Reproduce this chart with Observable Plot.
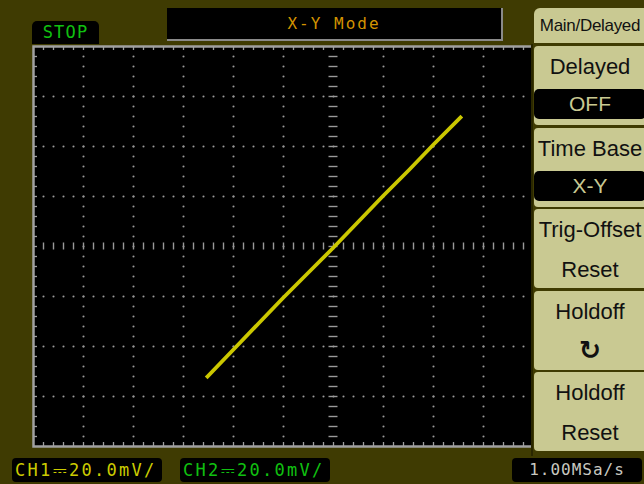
<!DOCTYPE html>
<html><head><meta charset="utf-8">
<script src="https://cdn.jsdelivr.net/npm/d3@7"></script>
<script src="https://cdn.jsdelivr.net/npm/@observablehq/plot@0.6"></script>
<style>
html,body{margin:0;padding:0;background:#3f3b02;}
#wrap{position:relative;width:644px;height:484px;overflow:hidden;background:#3f3b02;}
#wrap svg{position:absolute;left:0;top:0;}
.ov{position:absolute;box-sizing:border-box;}
.mono{font-family:"DejaVu Sans Mono",monospace;}
.menu{font-family:"Liberation Sans",Arial,sans-serif;color:#111;text-align:center;white-space:nowrap;}
.btn{position:absolute;left:534px;width:112px;background:#c9c992;}
.blk{position:absolute;left:534px;width:112px;background:#000;color:#c9c992;border-radius:5px;}
</style></head><body><div id="wrap"></div>
<script>
// X-Y trace: CH1 (X) and CH2 (Y) in mV
const ch1_mV = [-50.4, -40.0, -30.0, -20.0, -10.0, 0.0, 10.0, 20.0, 30.0, 40.0, 50.8];
const ch2_mV = [-52.0, -41.2, -30.8, -20.4, -10.4, -0.4, 10.0, 20.4, 30.4, 40.8, 51.6];
const mvPerDiv = 20;
const hDivs = 12, vDivs = 8, minorPerDiv = 5;
const statusText = "STOP";
const titleText = "X-Y Mode";
const menuHeader = "Main/Delayed";
const menuLabels = [["Delayed","OFF"],["Time Base","X-Y"],["Trig-Offset","Reset"],["Holdoff","↻"],["Holdoff","Reset"]];
const ch1Label = "CH1⎓20.0mV/";
const ch2Label = "CH2⎓20.0mV/";
const rateLabel = "1.00MSa/s";

const trace = ch1_mV.map((x, i) => ({x, y: ch2_mV[i]}));
const xMax = hDivs / 2 * mvPerDiv, yMax = vDivs / 2 * mvPerDiv;
const step = mvPerDiv / minorPerDiv;
const xsMinor = d3.range(-xMax + step, xMax - step / 2, step);
const ysMinor = d3.range(-yMax + step, yMax - step / 2, step);
const xMajor = d3.range(-hDivs / 2 + 1, hDivs / 2).filter(k => k !== 0).map(k => k * mvPerDiv);
const yMajor = d3.range(-vDivs / 2 + 1, vDivs / 2).filter(k => k !== 0).map(k => k * mvPerDiv);
const gridDots = [];
for (const gx of xMajor) for (const gy of ysMinor) gridDots.push({x: gx, y: gy});
for (const gy of yMajor) for (const gx of xsMinor) gridDots.push({x: gx, y: gy});
const px = mvPerDiv / 50; // mV per pixel

const grey = "#9a9a9a";
const chart = Plot.plot({
  width: 644, height: 484,
  marginLeft: 33, marginRight: 11, marginTop: 46, marginBottom: 38,
  x: {domain: [-xMax, xMax], axis: null},
  y: {domain: [-yMax, yMax], axis: null},
  style: {background: "transparent"},
  marks: [
    Plot.frame({fill: "#000", stroke: null}),
    Plot.dot(gridDots, {x: "x", y: "y", r: 1.05, fill: grey, stroke: null}),
    Plot.ruleX(xsMinor, {x: d => d, y1: -3.5 * px, y2: 3.5 * px, stroke: grey, strokeWidth: 1.4}),
    Plot.ruleY(ysMinor, {y: d => d, x1: -4.5 * px, x2: 4.5 * px, stroke: grey, strokeWidth: 1.4}),
    Plot.ruleX(xsMinor, {x: d => d, y1: yMax, y2: yMax - 4 * px, stroke: "#a0a0a0", strokeWidth: 1.3}),
    Plot.ruleX(xsMinor, {x: d => d, y1: -yMax, y2: -yMax + 4 * px, stroke: "#a0a0a0", strokeWidth: 1.3}),
    Plot.ruleY(ysMinor, {y: d => d, x1: -xMax, x2: -xMax + 4 * px, stroke: "#a0a0a0", strokeWidth: 1.3}),
    Plot.frame({stroke: "#a0a0a0", strokeWidth: 2.5}),
    Plot.line(trace, {x: "x", y: "y", stroke: "#cbc700", strokeWidth: 3.8, strokeLinecap: "square"})
  ]
});
const wrap = document.getElementById("wrap");
wrap.appendChild(chart);

function add(html) { wrap.insertAdjacentHTML("beforeend", html); }
// status & title
add(`<div class="ov mono" style="left:32px;top:21px;width:67px;height:23px;background:#000;border-radius:5px 5px 0 0;color:#10c010;font-size:17px;line-height:23px;text-align:center;letter-spacing:1.2px;">${statusText}</div>`);
add(`<div class="ov mono" style="left:167px;top:8px;width:336px;height:33px;background:#000;border-right:2px solid #8a8a8a;border-bottom:2px solid #8a8a8a;color:#d39300;font-size:16px;line-height:31px;text-align:center;letter-spacing:2px;">${titleText}</div>`);
// menu column
add(`<div class="ov" style="left:531px;top:44px;width:113px;height:414px;background:#3f3b02;"></div>`);
add(`<div class="ov" style="left:531px;top:44px;width:2px;height:412px;background:#2a2700;"></div>`);
add(`<div class="btn menu" style="top:8px;height:35px;border-radius:6px 0 0 0;font-size:17px;line-height:35px;letter-spacing:-0.3px;">${menuHeader}</div>`);
menuLabels.forEach(([a, b], i) => {
  const top = 46 + i * 81.5;
  add(`<div class="btn menu" style="top:${top}px;height:79px;border-radius:4px 0 0 4px;"></div>`);
  add(`<div class="ov menu" style="left:534px;width:112px;top:${top + 6}px;height:30px;font-size:22px;line-height:30px;">${a}</div>`);
  if (i < 2) {
    add(`<div class="blk menu" style="top:${top + 43}px;height:30px;font-size:21px;line-height:30px;color:#c9c992;">${b}</div>`);
  } else if (i === 3) {
    add(`<div class="ov menu" style="left:534px;width:112px;top:${top + 44}px;height:30px;font-size:26px;font-weight:bold;line-height:30px;font-family:'DejaVu Sans';">${b}</div>`);
  } else {
    add(`<div class="ov menu" style="left:534px;width:112px;top:${top + 46}px;height:30px;font-size:22px;line-height:30px;">${b}</div>`);
  }
});
// bottom status bar
add(`<div class="ov mono" style="left:12px;top:458px;width:150px;height:24px;background:#000;border-radius:4px;color:#cccc00;font-size:17px;line-height:24px;padding-left:3px;letter-spacing:2.3px;white-space:nowrap;">${ch1Label}</div>`);
add(`<div class="ov mono" style="left:180px;top:458px;width:150px;height:24px;background:#000;border-radius:4px;color:#10c010;font-size:17px;line-height:24px;padding-left:3px;letter-spacing:2.3px;white-space:nowrap;">${ch2Label}</div>`);
add(`<div class="ov mono" style="left:512px;top:458px;width:130px;height:24px;background:#000;border-radius:4px;color:#c8c8c0;font-size:16px;line-height:24px;text-align:center;letter-spacing:1px;white-space:nowrap;">${rateLabel}</div>`);
</script>
</body></html>
